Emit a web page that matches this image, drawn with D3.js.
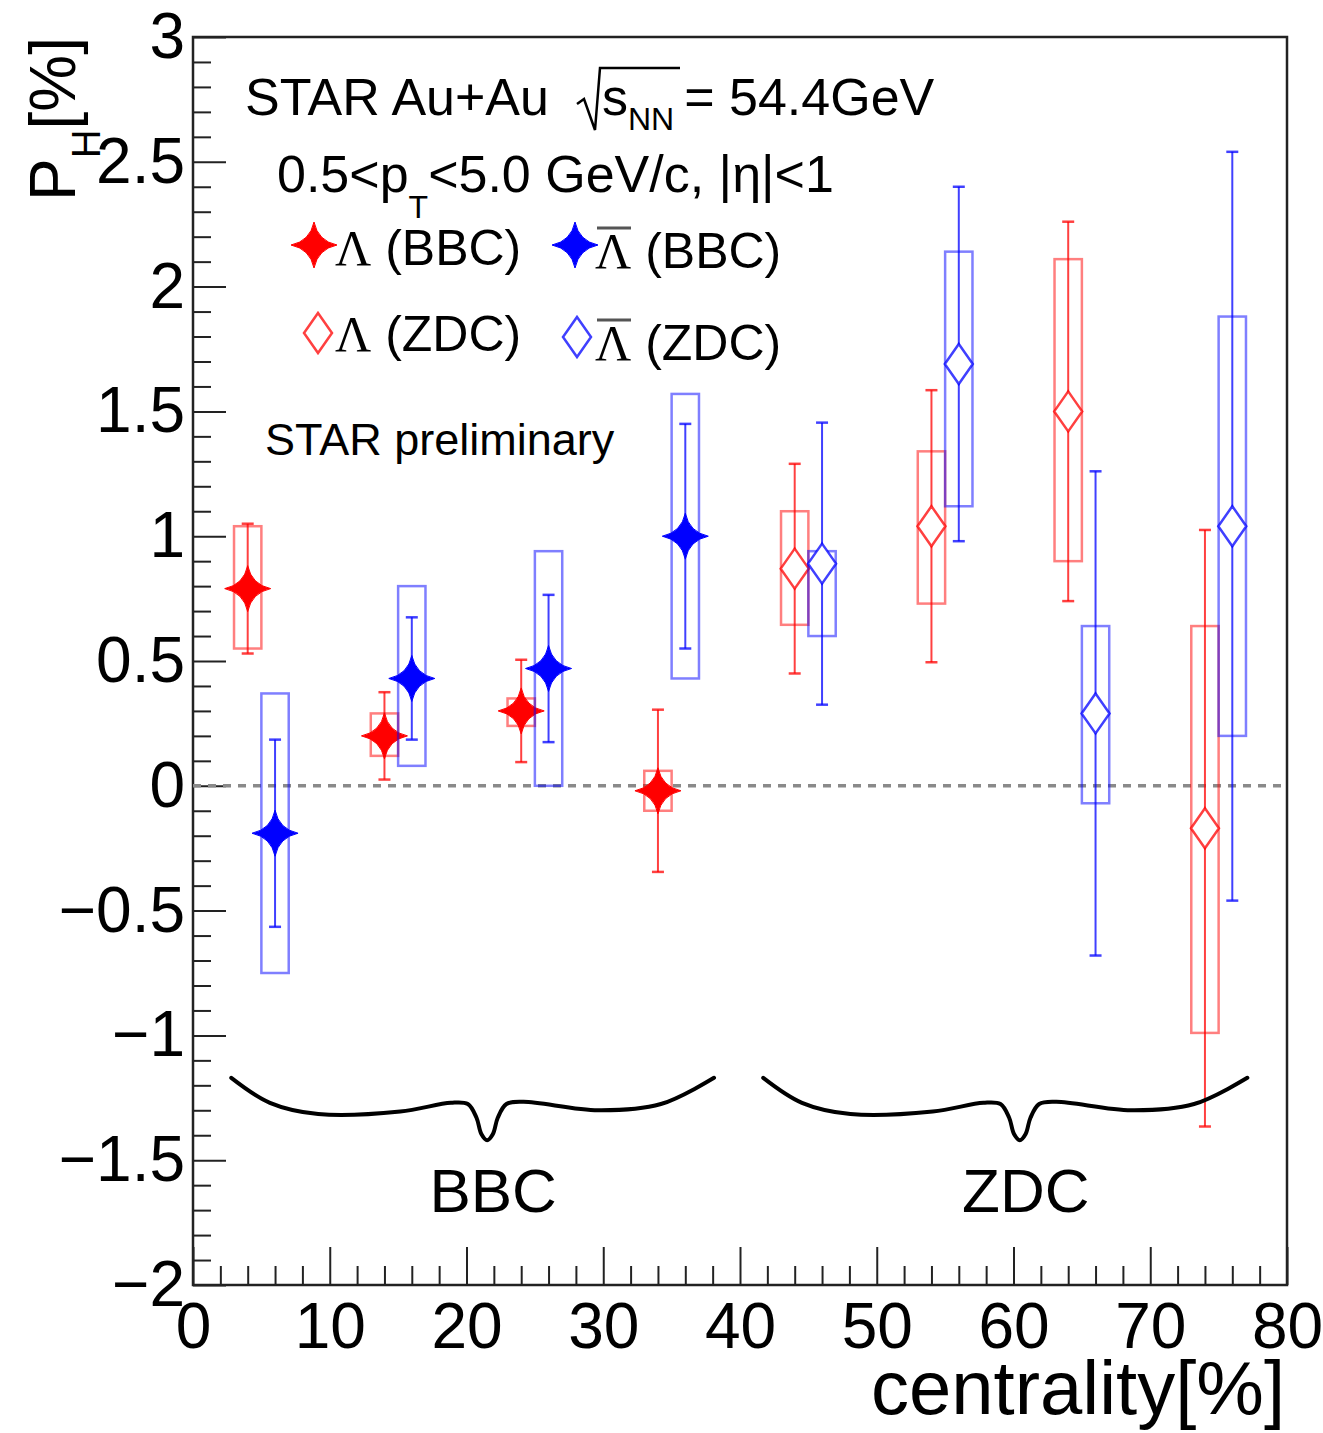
<!DOCTYPE html>
<html>
<head>
<meta charset="utf-8">
<script src="https://cdn.jsdelivr.net/npm/d3@7"></script>
<style>
    body { margin: 0; background: #fff; }
    text { font-family: 'Liberation Sans', Arial, Helvetica, sans-serif; fill: #000; }
</style>
</head>
<body>
<svg id="vis" width="1323" height="1433"></svg>
<script>
// centrality bins, Lambda drawn left of the bin centre, anti-Lambda right of it
const lamBbcX = [4, 14, 24, 34];
const lamBbcVal = [0.79, 0.20, 0.30, -0.02];
const lamBbcStat = [0.26, 0.175, 0.205, 0.325];
const lamBbcSysLo = [0.55, 0.12, 0.24, -0.10];
const lamBbcSysHi = [1.04, 0.29, 0.35, 0.06];

const alamBbcX = [6, 16, 26, 36];
const alamBbcVal = [-0.19, 0.43, 0.47, 1.00];
const alamBbcStat = [0.375, 0.245, 0.295, 0.45];
const alamBbcSysLo = [-0.75, 0.08, 0.00, 0.43];
const alamBbcSysHi = [0.37, 0.80, 0.94, 1.57];

const lamZdcX = [44, 54, 64, 74];
const lamZdcVal = [0.87, 1.04, 1.50, -0.17];
const lamZdcStat = [0.42, 0.545, 0.76, 1.195];
const lamZdcSysLo = [0.645, 0.73, 0.90, -0.99];
const lamZdcSysHi = [1.10, 1.34, 2.11, 0.64];

const alamZdcX = [46, 56, 66, 76];
const alamZdcVal = [0.89, 1.69, 0.29, 1.04];
const alamZdcStat = [0.565, 0.71, 0.97, 1.50];
const alamZdcSysLo = [0.60, 1.12, -0.07, 0.20];
const alamZdcSysHi = [0.94, 2.14, 0.64, 1.88];

const xMajorTicks = [0, 10, 20, 30, 40, 50, 60, 70, 80];
const yMajorTicks = [-2, -1.5, -1, -0.5, 0, 0.5, 1, 1.5, 2, 2.5, 3];

const RED = '#ff0000';
const BLUE = '#0000ff';

const v_svg = d3.select('#vis');

var xScale = d3.scaleLinear()
    .domain([0, 80])
    .range([193, 1287]);

var yScale = d3.scaleLinear()
    .domain([-2, 3])
    .range([1285, 37]);

function styleAxis(g, size) {
    g.select('.domain').remove();
    g.selectAll('line').attr('stroke', '#222').attr('stroke-width', 2);
    g.selectAll('text')
        .attr('font-family', "'Liberation Sans', Arial, Helvetica, sans-serif")
        .attr('font-size', size)
        .attr('fill', '#000');
}

// y axis, ticks inside the frame
var yMinor = d3.range(-20, 31).map((d) => d / 10).filter((d) => Math.abs(d * 2 - Math.round(d * 2)) > 1e-6);
v_svg.append('g')
    .attr('transform', 'translate(193, 0)')
    .call(d3.axisLeft(yScale).tickValues(yMinor).tickSize(-18).tickFormat(''))
    .call((g) => styleAxis(g, 0));
v_svg.append('g')
    .attr('class', 'y-axis')
    .attr('transform', 'translate(193, 0)')
    .call(d3.axisLeft(yScale).tickValues(yMajorTicks).tickSize(-33).tickPadding(8).tickFormat(d3.format('~g')))
    .call((g) => styleAxis(g, 64));

// x axis
var xMinor = d3.range(0, 81, 2).filter((d) => d % 10 !== 0);
v_svg.append('g')
    .attr('transform', 'translate(0, 1285)')
    .call(d3.axisBottom(xScale).tickValues(xMinor).tickSize(-19).tickFormat(''))
    .call((g) => styleAxis(g, 0));
v_svg.append('g')
    .attr('class', 'x-axis')
    .attr('transform', 'translate(0, 1285)')
    .call(d3.axisBottom(xScale).tickValues(xMajorTicks).tickSize(-38).tickPadding(18).tickFormat(d3.format('~g')))
    .call((g) => styleAxis(g, 64));

// frame
v_svg.append('rect')
    .attr('x', xScale(0))
    .attr('y', yScale(3))
    .attr('width', xScale(80) - xScale(0))
    .attr('height', yScale(-2) - yScale(3))
    .attr('fill', 'none')
    .attr('stroke', '#222')
    .attr('stroke-width', 2.5);

// zero line
v_svg.append('line')
    .attr('x1', xScale(0))
    .attr('x2', xScale(80))
    .attr('y1', yScale(0))
    .attr('y2', yScale(0))
    .attr('stroke', '#8a8a8a')
    .attr('stroke-width', 3.5)
    .attr('stroke-dasharray', '8,7');

// markers
const starPath = 'M0,-23 Q4,-4 23,0 Q4,4 0,23 Q-4,4 -23,0 Q-4,-4 0,-23 Z';
const diamondPath = 'M0,-20 L14,0 L0,20 L-14,0 Z';

function drawSeries(xs, vals, stat, sysLo, sysHi, color, marker) {
    var data = xs.map((x, i) => ({ x: x, v: vals[i], e: stat[i], lo: sysLo[i], hi: sysHi[i] }));
    var g = v_svg.append('g');

    g.selectAll('rect')
        .data(data)
        .enter()
        .append('rect')
        .attr('x', (d) => xScale(d.x - 1))
        .attr('width', (d) => xScale(d.x + 1) - xScale(d.x - 1))
        .attr('y', (d) => yScale(d.hi))
        .attr('height', (d) => yScale(d.lo) - yScale(d.hi))
        .attr('fill', 'none')
        .attr('stroke', color)
        .attr('stroke-opacity', 0.5)
        .attr('stroke-width', 2.5);

    g.selectAll('line.stat')
        .data(data)
        .enter()
        .append('line')
        .attr('class', 'stat')
        .attr('x1', (d) => xScale(d.x))
        .attr('x2', (d) => xScale(d.x))
        .attr('y1', (d) => yScale(d.v + d.e))
        .attr('y2', (d) => yScale(d.v - d.e))
        .attr('stroke', color)
        .attr('stroke-opacity', 0.75)
        .attr('stroke-width', 2);

    [1, -1].forEach((s) => {
        g.selectAll('line.cap' + (s > 0 ? 'u' : 'd'))
            .data(data)
            .enter()
            .append('line')
            .attr('x1', (d) => xScale(d.x) - 6)
            .attr('x2', (d) => xScale(d.x) + 6)
            .attr('y1', (d) => yScale(d.v + s * d.e))
            .attr('y2', (d) => yScale(d.v + s * d.e))
            .attr('stroke', color)
            .attr('stroke-opacity', 0.75)
            .attr('stroke-width', 2.5);
    });

    g.selectAll('path')
        .data(data)
        .enter()
        .append('path')
        .attr('d', marker === 'star' ? starPath : diamondPath)
        .attr('transform', (d) => 'translate(' + xScale(d.x) + ', ' + yScale(d.v) + ')')
        .attr('fill', marker === 'star' ? color : '#fff')
        .attr('stroke', color)
        .attr('stroke-opacity', marker === 'star' ? 1 : 0.75)
        .attr('stroke-width', marker === 'star' ? 1 : 2.5);
}

drawSeries(lamBbcX, lamBbcVal, lamBbcStat, lamBbcSysLo, lamBbcSysHi, RED, 'star');
drawSeries(alamBbcX, alamBbcVal, alamBbcStat, alamBbcSysLo, alamBbcSysHi, BLUE, 'star');
drawSeries(lamZdcX, lamZdcVal, lamZdcStat, lamZdcSysLo, lamZdcSysHi, RED, 'diamond');
drawSeries(alamZdcX, alamZdcVal, alamZdcStat, alamZdcSysLo, alamZdcSysHi, BLUE, 'diamond');

// curly braces under the two groups (u along the span, depth in y units below the ends)
const braceU = [0, 0.08, 0.18, 0.35, 0.455, 0.49, 0.508, 0.518, 0.53, 0.542, 0.552, 0.57, 0.605, 0.76, 0.89, 1];
const braceDepth = [0, 0.1, 0.145, 0.135, 0.1, 0.105, 0.16, 0.225, 0.25, 0.225, 0.16, 0.105, 0.096, 0.13, 0.105, 0];
const braceLine = d3.line().curve(d3.curveCatmullRom.alpha(0.5));
[[2.8, 38.1, 'BBC'], [41.7, 77.1, 'ZDC']].forEach((b) => {
    var pts = braceU.map((u, i) => [xScale(b[0] + u * (b[1] - b[0])), yScale(-1.17 - braceDepth[i])]);
    v_svg.append('path')
        .attr('d', braceLine(pts))
        .attr('fill', 'none')
        .attr('stroke', '#000')
        .attr('stroke-width', 4)
        .attr('stroke-linecap', 'round');
    v_svg.append('text')
        .attr('x', xScale(b[0] + 0.53 * (b[1] - b[0])) + 6)
        .attr('y', 1212)
        .attr('font-size', 62)
        .attr('text-anchor', 'middle')
        .text(b[2]);
});

// axis titles
v_svg.append('text')
    .attr('x', 1285)
    .attr('y', 1414)
    .attr('font-size', 76)
    .attr('text-anchor', 'end')
    .text('centrality[%]');

var yTitle = v_svg.append('text')
    .attr('transform', 'translate(75, 37) rotate(-90)')
    .attr('font-size', 64)
    .attr('text-anchor', 'end');
yTitle.append('tspan').text('P');
yTitle.append('tspan').attr('font-size', 40).attr('dy', 25).text('H');
yTitle.append('tspan').attr('dy', -25).text('[%]');

// header text
v_svg.append('text').attr('x', 245).attr('y', 115).attr('font-size', 52).text('STAR Au+Au');
v_svg.append('path')
    .attr('d', 'M577,104 L584,99 L595,130 L600,68 L680,68')
    .attr('fill', 'none')
    .attr('stroke', '#000')
    .attr('stroke-width', 2.5);
var sqrtText = v_svg.append('text').attr('x', 602).attr('y', 115).attr('font-size', 52);
sqrtText.append('tspan').text('s');
sqrtText.append('tspan').attr('font-size', 32).attr('dy', 15).text('NN');
sqrtText.append('tspan').attr('dy', -15).attr('dx', 10).text('= 54.4GeV');

var ptText = v_svg.append('text').attr('x', 277).attr('y', 192).attr('font-size', 52);
ptText.append('tspan').text('0.5<p');
ptText.append('tspan').attr('font-size', 32).attr('dy', 26).text('T');
ptText.append('tspan').attr('dy', -26).text('<5.0 GeV/c, |η|<1');

// legend
const legendRows = [
    { mx: 314, my: 245, tx: 335, ty: 265, color: RED, marker: 'star', bar: false, label: ' (BBC)' },
    { mx: 575, my: 245, tx: 595, ty: 268, color: BLUE, marker: 'star', bar: true, label: ' (BBC)' },
    { mx: 318, my: 333, tx: 335, ty: 351, color: RED, marker: 'diamond', bar: false, label: ' (ZDC)' },
    { mx: 577, my: 337, tx: 595, ty: 360, color: BLUE, marker: 'diamond', bar: true, label: ' (ZDC)' }
];
legendRows.forEach((r) => {
    v_svg.append('path')
        .attr('d', r.marker === 'star' ? starPath : diamondPath)
        .attr('transform', 'translate(' + r.mx + ', ' + r.my + ')')
        .attr('fill', r.marker === 'star' ? r.color : '#fff')
        .attr('stroke', r.color)
        .attr('stroke-opacity', r.marker === 'star' ? 1 : 0.75)
        .attr('stroke-width', r.marker === 'star' ? 1 : 2.5);
    var t = v_svg.append('text').attr('x', r.tx).attr('y', r.ty).attr('font-size', 50);
    t.append('tspan').attr('font-family', "'Liberation Serif', 'Times New Roman', serif").text('Λ');
    t.append('tspan').text(r.label);
    if (r.bar) {
        v_svg.append('line')
            .attr('x1', r.tx + 2)
            .attr('x2', r.tx + 36)
            .attr('y1', r.ty - 40)
            .attr('y2', r.ty - 40)
            .attr('stroke', '#555')
            .attr('stroke-width', 3);
    }
});

v_svg.append('text')
    .attr('x', 265)
    .attr('y', 455)
    .attr('font-size', 45)
    .text('STAR preliminary');
</script>
</body>
</html>
